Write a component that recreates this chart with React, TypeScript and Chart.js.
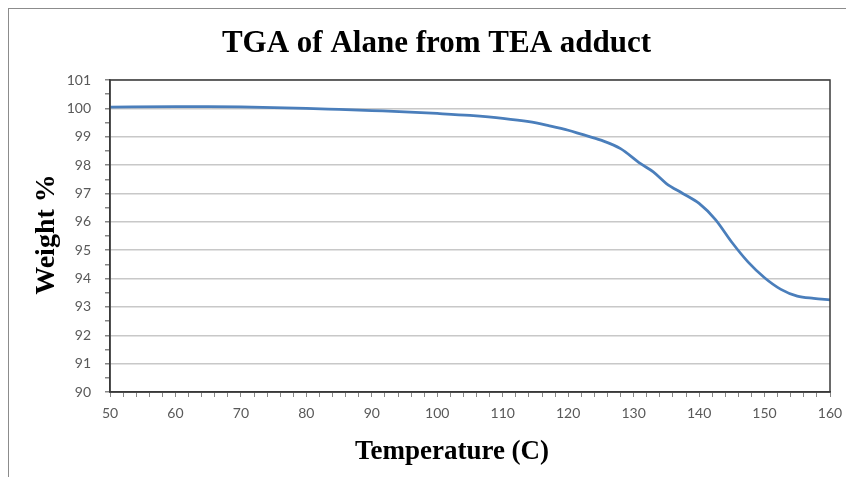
import React, { useEffect, useRef } from "react";
import { Chart, registerables } from "chart.js";

Chart.register(...registerables);

const temperatures = [50, 60, 65, 70, 75, 80, 85, 90, 95, 100, 105, 110, 114, 117, 120, 122, 125, 128, 131, 133, 135, 137.5, 140, 142.5, 145, 147.5, 150, 152.5, 155, 157.5, 160];
const weights = [100.04, 100.06, 100.06, 100.05, 100.03, 100.0, 99.96, 99.92, 99.88, 99.82, 99.75, 99.65, 99.53, 99.39, 99.23, 99.09, 98.88, 98.58, 98.06, 97.76, 97.35, 97.0, 96.65, 96.08, 95.28, 94.58, 94.03, 93.62, 93.38, 93.3, 93.25];

const xMin = 50, xMax = 160, xStep = 2, xLabelEvery = 10;
const yMin = 90, yMax = 101, yStep = 0.5;

const titleText = "TGA of Alane from TEA adduct";
const xTitle = "Temperature (C)";
const yTitle = "Weight %";

const SERIF = "'Liberation Serif', 'Times New Roman', serif";

const frame = {
  id: "frame",
  afterDatasetsDraw(chart: any) {
    const { ctx, chartArea: a } = chart;
    ctx.save();
    ctx.strokeStyle = "#3a3a3a";
    ctx.lineWidth = 1.5;
    ctx.strokeRect(a.left, a.top, a.right - a.left, a.bottom - a.top);
    ctx.restore();
  },
};

const texts = {
  id: "texts",
  afterDraw(chart: any) {
    const { ctx } = chart;
    ctx.save();
    ctx.fillStyle = "#000";
    ctx.textAlign = "center";
    ctx.textBaseline = "alphabetic";
    ctx.font = `bold 31px ${SERIF}`;
    ctx.fillText(titleText, 427.5, 42.5);
    ctx.font = `bold 27px ${SERIF}`;
    ctx.fillText(xTitle, 443, 450);
    ctx.translate(44.5, 225.5);
    ctx.rotate(-Math.PI / 2);
    ctx.font = `bold 28px ${SERIF}`;
    ctx.fillText(yTitle, 0, 0);
    ctx.restore();
  },
};

export default function App() {
  const ref = useRef<HTMLCanvasElement>(null);
  useEffect(() => {
    document.body.style.overflow = "hidden";
    const data = temperatures.map((t, i) => ({ x: t, y: weights[i] }));
    const chart = new Chart(ref.current!, {
      type: "scatter",
      data: {
        datasets: [
          {
            data,
            showLine: true,
            borderColor: "#4a7ebb",
            borderWidth: 2.75,
            pointRadius: 0,
            cubicInterpolationMode: "monotone",
          } as any,
        ],
      },
      options: {
        responsive: false,
        animation: false,
        layout: { padding: { left: 0, right: 24, top: 71, bottom: 0 } },
        plugins: {
          legend: { display: false },
          tooltip: { enabled: false },
          title: { display: false },
        },
        scales: {
          x: {
            type: "linear",
            min: xMin,
            max: xMax,
            afterFit: (s: any) => { s.height = 85; },
            ticks: {
              stepSize: xStep,
              autoSkip: false,
              maxRotation: 0,
              padding: 8,
              color: "#595959",
              font: { family: "Lato, 'Open Sans', sans-serif", size: 14 },
              callback: (v: any) => (Math.round(v) % xLabelEvery === 0 ? String(v) : ""),
            },
            grid: { drawOnChartArea: false, tickLength: 5, tickColor: "#868686" },
            border: { color: "#3a3a3a", width: 1.5 },
          },
          y: {
            type: "linear",
            min: yMin,
            max: yMax,
            afterFit: (s: any) => { s.width = 101; },
            ticks: {
              stepSize: yStep,
              autoSkip: false,
              padding: 14,
              color: "#595959",
              font: { family: "Lato, 'Open Sans', sans-serif", size: 14 },
              callback: (v: any) => (Number.isInteger(v) ? String(v) : ""),
            },
            grid: {
              color: (c: any) => (c.tick && Number.isInteger(c.tick.value) ? "#c8c8c8" : "rgba(0,0,0,0)"),
              lineWidth: 1.5,
              tickLength: 5,
              tickColor: "#868686",
            },
            border: { color: "#3a3a3a", width: 1.5 },
          },
        },
      },
      plugins: [frame, texts],
    });
    return () => chart.destroy();
  }, []);
  return (
    <div style={{ borderLeft: "1px solid #8c8c8c", borderTop: "1px solid #8c8c8c", width: 845, height: 468 }}>
      <canvas ref={ref} width={845} height={468} style={{ display: "block" }} />
    </div>
  );
}
